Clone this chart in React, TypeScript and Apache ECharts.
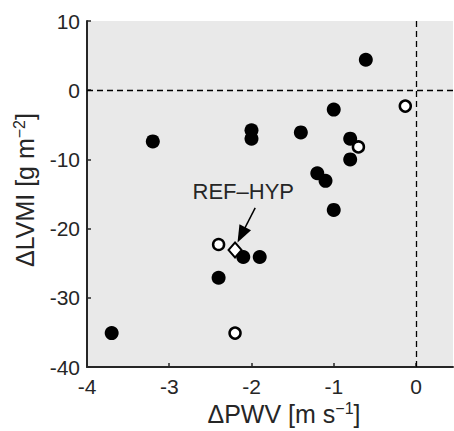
import React, { useEffect, useRef } from "react";
import * as echarts from "echarts";

const filledX = [-0.61, -1.0, -1.4, -0.8, -0.8, -1.2, -1.1, -3.2, -2.0, -2.0, -1.0, -2.4, -3.7, -2.1, -1.9];
const filledY = [4.4, -2.8, -6.1, -7.0, -10.0, -12.0, -13.1, -7.4, -5.8, -7.0, -17.3, -27.1, -35.1, -24.1, -24.1];
const openX = [-0.13, -0.7, -2.4, -2.2];
const openY = [-2.3, -8.2, -22.3, -35.1];
const refX = [-2.2];
const refY = [-23.1];
const refLabel = "REF–HYP";
const labelPos = [-2.1, -14.6];
const arrowFrom = [-1.955, -17.0];
const arrowTo = [-2.123, -20.9];
const xTicks = [-4, -3, -2, -1, 0];
const yTicks = [-40, -30, -20, -10, 0, 10];

const FONT = "Liberation Sans, Arial, sans-serif";
const TXT = "#262626";

export default function App() {
  const ref = useRef<HTMLDivElement>(null);
  useEffect(() => {
    if (!ref.current) return;
    const chart = echarts.init(ref.current, null, { renderer: "svg" });
    const zip = (xs: number[], ys: number[]) => xs.map((x, i) => [x, ys[i]]);
    const rich = {
      n: { fontSize: 25, fontFamily: FONT, fill: TXT },
      s: { fontSize: 16, fontFamily: FONT, fill: TXT, padding: [0, 0, 11, 0] },
    };
    chart.setOption({
      animation: false,
      backgroundColor: "#ffffff",
      grid: {
        left: 87,
        top: 21,
        right: 1,
        bottom: 64,
        show: true,
        backgroundColor: "#e9e9e9",
        borderWidth: 0,
      },
      xAxis: {
        type: "value",
        min: -4,
        max: 0.45,
        interval: 1,
        splitLine: { show: false },
        axisLine: { show: true, onZero: false, lineStyle: { color: TXT, width: 2 } },
        axisTick: { show: true, inside: true, length: 4, customValues: xTicks, lineStyle: { color: TXT, width: 1.5 } },
        axisLabel: { customValues: xTicks, fontSize: 21, color: TXT, fontFamily: FONT, margin: 9 },
      },
      yAxis: {
        type: "value",
        min: -40,
        max: 10,
        interval: 10,
        splitLine: { show: false },
        axisLine: { show: true, onZero: false, lineStyle: { color: TXT, width: 2 } },
        axisTick: { show: true, inside: true, length: 4, customValues: yTicks, lineStyle: { color: TXT, width: 1.5 } },
        axisLabel: { customValues: yTicks, fontSize: 21, color: TXT, fontFamily: FONT, margin: 7, padding: [8, 0, 0, 0] },
      },
      graphic: [
        {
          type: "text",
          x: 284,
          y: 414,
          style: {
            text: "{n|ΔPWV [m s}{s|−1}{n|]}",
            align: "center",
            verticalAlign: "middle",
            rich,
          },
        },
        {
          type: "text",
          x: 25,
          y: 190,
          rotation: Math.PI / 2,
          style: {
            text: "{n|ΔLVMI [g m}{s|−2}{n|]}",
            align: "center",
            verticalAlign: "middle",
            rich,
          },
        },
      ],
      series: [
        {
          type: "scatter",
          data: [],
          silent: true,
          markLine: {
            silent: true,
            symbol: "none",
            label: { show: false },
            lineStyle: { color: "#000", width: 1.3, type: [6, 4] },
            data: [{ xAxis: 0 }, { yAxis: 0 }],
          },
        },
        {
          type: "scatter",
          data: zip(filledX, filledY),
          symbol: "circle",
          symbolSize: 14,
          itemStyle: { color: "#000", opacity: 1 },
          z: 3,
        },
        {
          type: "scatter",
          data: zip(openX, openY),
          symbol: "circle",
          symbolSize: 11,
          itemStyle: { color: "#fff", borderColor: "#000", borderWidth: 2.5, opacity: 1 },
          z: 4,
        },
        {
          type: "scatter",
          data: zip(refX, refY),
          symbol: "diamond",
          symbolSize: [13, 15],
          itemStyle: { color: "#fff", borderColor: "#000", borderWidth: 2, opacity: 1 },
          z: 5,
          markPoint: {
            symbol: "circle",
            symbolSize: 1,
            itemStyle: { color: "rgba(0,0,0,0)" },
            label: {
              show: true,
              position: "inside",
              formatter: refLabel,
              fontSize: 22,
              fontFamily: FONT,
              color: TXT,
            },
            data: [{ coord: labelPos }],
          },
          markLine: {
            silent: true,
            symbol: ["none", "triangle"],
            symbolSize: [13, 17],
            label: { show: false },
            lineStyle: { color: "#000", width: 1.5, type: "solid" },
            data: [[{ coord: arrowFrom }, { coord: arrowTo }]],
          },
        },
      ],
    });
    return () => chart.dispose();
  }, []);
  return <div ref={ref} style={{ position: "fixed", left: 0, top: 0, width: 454, height: 431 }} />;
}
